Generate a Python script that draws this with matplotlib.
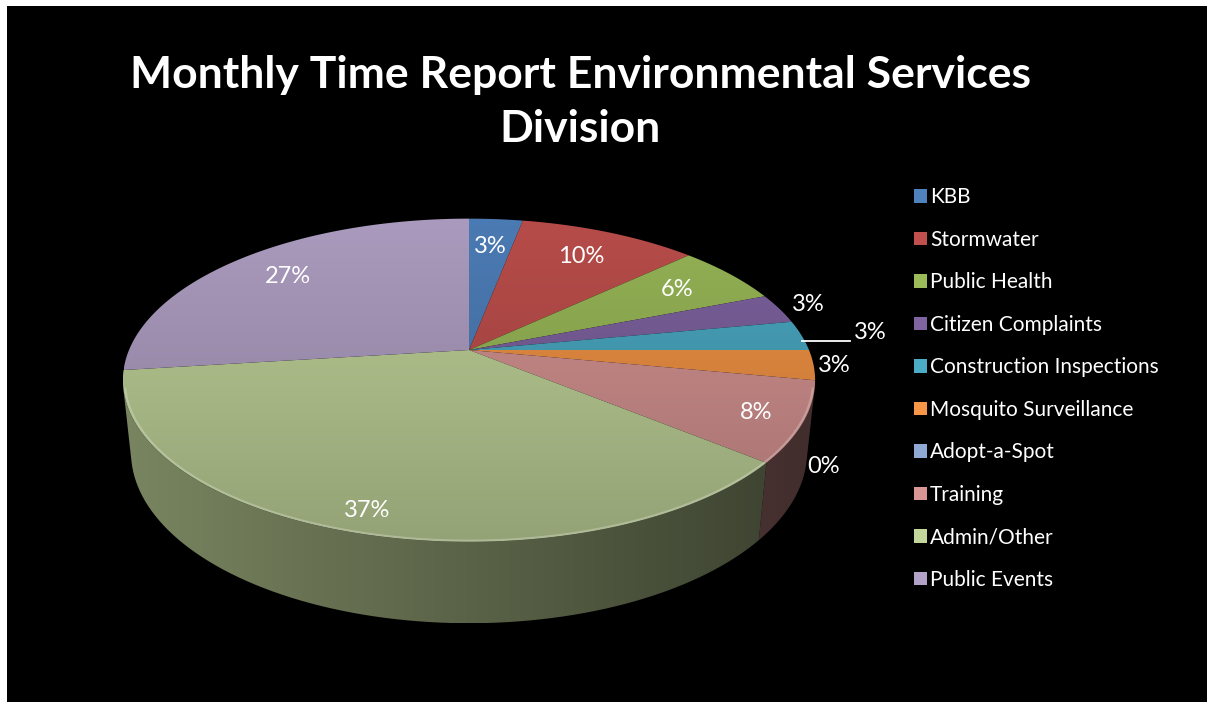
#!/usr/bin/env python3
import math

import matplotlib
matplotlib.use("Agg")
import matplotlib.pyplot as plt
import numpy as np
from matplotlib.colors import to_rgb
from matplotlib.patches import Patch, Polygon, Rectangle

CATEGORIES = ["KBB", "Stormwater", "Public Health", "Citizen Complaints", "Construction Inspections",
              "Mosquito Surveillance", "Adopt-a-Spot", "Training", "Admin/Other", "Public Events"]
PERCENTS = [3, 10, 6, 3, 3, 3, 0, 8, 37, 27]
TITLE = "Monthly Time Report Environmental Services\nDivision"

COLORS = ["#4F81BD", "#C0504D", "#9BBB59", "#8064A2", "#4BACC6",
          "#F79646", "#8EA9D3", "#D99694", "#C3D69B", "#B3A2C7"]
# label placement per slice: radius on the top face, height, leader line
LABEL_R = [0.76, 0.77, 0.78, 1.1, 1.16, 1.06, 1.05, 0.87, 0.9, 0.78]
LABEL_Z = [0, 0, 0, 0, 0, 0, -0.28, 0, 0, 0]
LEADER = [False, False, False, False, True, False, False, False, False, False]

W, H = 1207, 702
CX, CY = 469, 350          # apex of the pie, pixels
F, D, ELEV, DEPTH = 1615.0, 4.75, math.radians(27.3), 0.24
SE, CE = math.sin(ELEV), math.cos(ELEV)


def project(theta, r, z=0.0):
    t = np.radians(theta)
    x = r * np.sin(t)
    y = r * np.cos(t)
    d = D + y * CE - z * SE
    return CX + F * x / d, CY - F * (y * SE + z * CE) / d


def shade(color, k):
    return np.clip(np.array(to_rgb(color)) * k, 0, 1)


def gradient_fill(ax, pts, color, k0, k1, vertical, span, zorder):
    poly = Polygon(pts, closed=True, fc="none", ec="none")
    ax.add_patch(poly)
    ks = np.linspace(k0, k1, 128)
    cols = np.array([shade(color, k) for k in ks])
    if vertical:
        img = cols[:, None, :]
        ext = (pts[:, 0].min(), pts[:, 0].max(), span[1], span[0])
    else:
        img = cols[None, :, :]
        ext = (span[0], span[1], pts[:, 1].max(), pts[:, 1].min())
    im = ax.imshow(img, extent=ext, origin="upper", aspect="auto", interpolation="bilinear", zorder=zorder)
    im.set_clip_path(poly)


fig = plt.figure(figsize=(W / 100, H / 100), dpi=100, facecolor="white")
ax = fig.add_axes([0, 0, 1, 1])
ax.set_xlim(0, W)
ax.set_ylim(H, 0)
ax.axis("off")
ax.add_patch(Rectangle((7, 6), W + 10, H + 10, fc="black", ec="none", zorder=0, clip_on=False))

bounds = np.cumsum([0] + PERCENTS) * 3.6
# visible side wall where the outward normal faces the camera
vis_cut = math.degrees(math.acos(-1 / (D * CE)))
vis_lo, vis_hi = vis_cut, 360 - vis_cut

ring = np.linspace(0, 360, 721)
rx, ry = project(ring, 1.0)
xspan = (rx.min(), rx.max())
yspan = (ry.min(), ry.max())

for i, pct in enumerate(PERCENTS):
    a, b = bounds[i], bounds[i + 1]
    if pct == 0:
        continue
    lo, hi = max(a, vis_lo), min(b, vis_hi)
    if lo < hi:
        th = np.linspace(lo, hi, 80)
        tx, ty = project(th, 1.0, 0)
        bx, by = project(th[::-1], 1.0, -DEPTH)
        pts = np.column_stack([np.r_[tx, bx], np.r_[ty, by]])
        gradient_fill(ax, pts, COLORS[i], 0.62, 0.3, False, xspan, 2)

for i, pct in enumerate(PERCENTS):
    a, b = bounds[i], bounds[i + 1]
    if pct == 0:
        continue
    th = np.linspace(a, b, max(int((b - a) * 2), 4))
    ex, ey = project(th, 1.0)
    pts = np.column_stack([np.r_[CX, ex], np.r_[CY, ey]])
    gradient_fill(ax, pts, COLORS[i], 0.95, 0.76, True, yspan, 3)

# soft bevel on the front rim
th = np.linspace(vis_lo, vis_hi, 200)
fx, fy = project(th, 0.995)
ax.plot(fx, fy, color="white", alpha=0.25, lw=1.5, zorder=4)

for i, pct in enumerate(PERCENTS):
    mid = (bounds[i] + bounds[i + 1]) / 2
    lx, ly = project(mid, LABEL_R[i], LABEL_Z[i])
    if LEADER[i]:
        sx, sy = project(mid, 1.0)
        ax.plot([sx, lx - 4], [sy + 5, sy + 5], color="white", lw=1.3, zorder=5)
        ax.text(lx, sy - 3, f"{pct}%", color="white", fontsize=17, family="Lato", ha="left", va="center", zorder=6)
    else:
        ax.text(lx, ly, f"{pct}%", color="white", fontsize=17, family="Lato", ha="center", va="center", zorder=6)

ax.text(580, 102, TITLE, color="white", fontsize=32, fontweight="bold", family="Lato",
        ha="center", va="center", linespacing=1.42, zorder=6)

handles = [Patch(fc=c, ec="none") for c in COLORS]
leg = ax.legend(handles, CATEGORIES, loc="upper left", bbox_to_anchor=(904 / W, 1 - 177 / H),
                frameon=False, prop={"family": "Lato", "size": 15}, labelcolor="white",
                handlelength=0.6, handleheight=0.6, handletextpad=0.15, labelspacing=1.08, borderpad=0)

fig.savefig("out.png", dpi=100, facecolor=fig.get_facecolor())
